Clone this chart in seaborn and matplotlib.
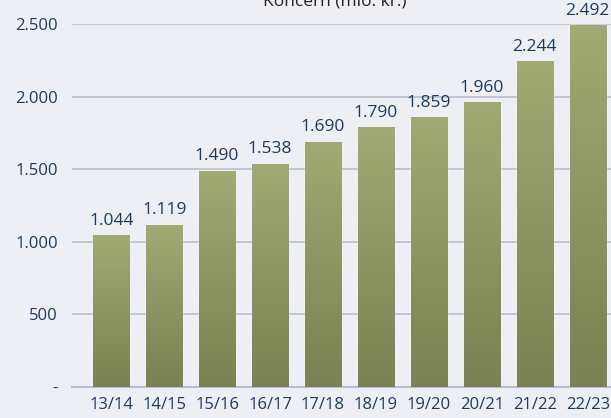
import numpy as np
import pandas as pd
import matplotlib.pyplot as plt
import seaborn as sns
from matplotlib.colors import LinearSegmentedColormap

years = ['13/14', '14/15', '15/16', '16/17', '17/18', '18/19', '19/20', '20/21', '21/22', '22/23']
revenue = [1044, 1119, 1490, 1538, 1690, 1790, 1859, 1960, 2244, 2492]
yticks = [0, 500, 1000, 1500, 2000, 2500]
ytick_labels = ['-', '500', '1.000', '1.500', '2.000', '2.500']

bg = '#eeeff5'
text_col = '#1d3b5c'
grid_col = '#b9bdd0'

sns.set_style('white')
plt.rcParams['font.family'] = ['Open Sans', 'DejaVu Sans']

df = pd.DataFrame({'year': years, 'revenue': revenue})

fig = plt.figure(figsize=(6.11, 4.18), dpi=100, facecolor=bg)
ax = fig.add_axes([72 / 611, 31 / 418, 555 / 611, 363 / 418])
ax.set_facecolor(bg)

sns.barplot(data=df, x='year', y='revenue', color='#8e9664', width=0.68, ax=ax, zorder=2)

# gradient fill, light at top, darker at bottom
cmap = LinearSegmentedColormap.from_list('olive', ['#7a8152', '#a1a974'])
grad = np.linspace(0, 1, 256).reshape(-1, 1)
for p in ax.patches:
    x0, y0 = p.get_x(), p.get_y()
    w, h = p.get_width(), p.get_height()
    im = ax.imshow(grad, cmap=cmap, aspect='auto', origin='lower',
                   extent=[x0, x0 + w, y0, y0 + h], zorder=3)
    im.set_clip_path(p)
    ax.text(x0 + w / 2, y0 + h + 45, f'{int(h):,}'.replace(',', '.'),
            ha='center', va='bottom', fontsize=12.5, color=text_col, clip_on=False)

ax.set_xlim(-0.74, 9.74)
ax.set_ylim(0, 2500)
ax.set_yticks(yticks)
ax.set_yticklabels(ytick_labels)
ax.yaxis.grid(True, color=grid_col, linewidth=1.2, zorder=0)
ax.set_axisbelow(True)
ax.tick_params(axis='both', length=0, labelsize=12, labelcolor=text_col, pad=7)
ax.tick_params(axis='y', pad=10)
ax.set_xlabel('')
ax.set_ylabel('')
for s in ['top', 'right', 'left']:
    ax.spines[s].set_visible(False)
ax.spines['bottom'].set_color(grid_col)
ax.spines['bottom'].set_linewidth(1.5)

fig.text(335 / 611, 0.997, 'Koncern (mio. kr.)', ha='center', va='center',
         fontsize=12.5, color='#222222')

fig.savefig('out.png', dpi=100, facecolor=bg)
